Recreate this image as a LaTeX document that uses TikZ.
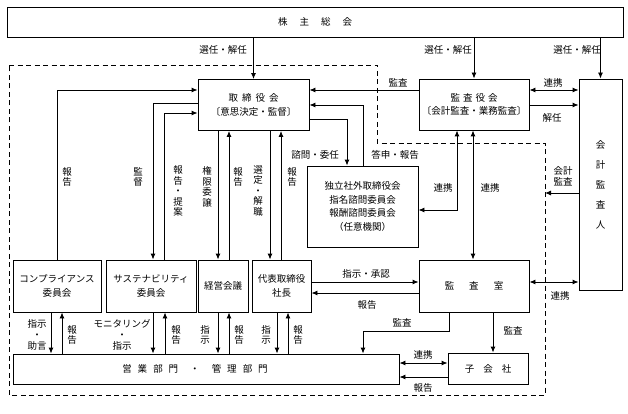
\documentclass[tikz,border=0pt]{standalone}
\usepackage{fontspec}
\setmainfont{Noto Sans CJK JP}
\usetikzlibrary{arrows.meta}

\begin{document}
\begin{tikzpicture}[x=1pt, y=-1pt,
    box/.style={draw, line width=0.9pt, align=center, inner sep=0pt, font=\fontsize{9.5}{13.5}\selectfont},
    lbl/.style={inner sep=0pt, font=\fontsize{9.5}{11}\selectfont},
    tate/.style={inner sep=0pt, align=center, font=\fontsize{9.5}{10.5}\selectfont},
    line/.style={line width=0.9pt},
    arr/.style={line, -{Latex[length=6pt,width=5pt]}},
    biarr/.style={line, {Latex[length=6pt,width=5pt]}-{Latex[length=6pt,width=5pt]}}]

    \useasboundingbox (0,0) rectangle (628,414);

    % ==========================================
    % TOP: shareholders, board, auditors
    % ==========================================

    % Boxes
    \node[box, minimum width=616, minimum height=30] (kabunushi) at (315,22) {株\hspace{12pt}主\hspace{12pt}総\hspace{12pt}会};
    \node[box, minimum width=111, minimum height=51] (torishimari) at (253.5,105) {取\hspace{4pt}締\hspace{4pt}役\hspace{4pt}会\\〔意思決定・監督〕};
    \node[box, minimum width=110, minimum height=51] (kansayaku) at (474,104.5) {監\hspace{3pt}査\hspace{3pt}役\hspace{3pt}会\\〔会計監査・業務監査〕};
    \node[box, minimum width=43, minimum height=211] (kaikei) at (600.5,184.5) {会\\[6.5pt]計\\[6.5pt]監\\[6.5pt]査\\[6.5pt]人};
    \node[box, minimum width=111, minimum height=81] (dokuritsu) at (362.5,206.5) {独立社外取締役会\\指名諮問委員会\\報酬諮問委員会\\（任意機関）};

    % Dashed frame of the company
    \draw[line, dash pattern=on 5pt off 3.5pt] (9,65) -- (377,65) -- (377,143) -- (545,143) -- (545,395) -- (9,395) -- cycle;
    \coordinate (kanmon) at (545,193);

    % Election / dismissal
    \draw[arr] (torishimari.north |- kabunushi.south) -- (torishimari.north);
    \draw[arr] (kansayaku.north |- kabunushi.south) -- (kansayaku.north);
    \draw[arr] (kaikei.north |- kabunushi.south) -- (kaikei.north);
    \node[lbl] (l-senin1) at (223,50) {選任・解任};
    \node[lbl] (l-senin2) at (448,50) {選任・解任};
    \node[lbl] (l-senin3) at (577,50) {選任・解任};

    % Audit board links
    \draw[arr] (kansayaku.west |- 0,90) -- (torishimari.east |- 0,90);
    \node[lbl] (l-kansa1) at (398,83) {監査};
    \draw[biarr] (kansayaku.east |- 0,90) -- (kaikei.west |- 0,90);
    \node[lbl] (l-renkei1) at (553,83) {連携};
    \draw[arr] (kansayaku.east |- 0,105) -- (kaikei.west |- 0,105);
    \node[lbl] (l-kainin) at (552,118) {解任};
    \draw[arr] (kaikei.west |- 0,193) -- (kanmon);
    \node[lbl, align=center] (l-kaikei) at (563,176) {会計\\監査};

    % Independent directors
    \draw[arr] (torishimari.east |- 0,119) -| (dokuritsu.north -| 347,0);
    \draw[arr] (dokuritsu.north -| 363,0) |- (torishimari.east |- 0,105);
    \node[lbl] (l-shimon) at (315,155) {諮問・委任};
    \node[lbl] (l-toushin) at (395,155) {答申・報告};
    \draw[biarr] (kansayaku.south -| 457,0) |- (dokuritsu.east |- 0,210);
    \node[lbl] (l-renkei2) at (443,188) {連携};

    % ==========================================
    % MIDDLE: committees and executives
    % ==========================================

    \node[box, minimum width=88, minimum height=52] (compliance) at (57,286) {コンプライアンス\\委員会};
    \node[box, minimum width=90, minimum height=52] (sustain) at (151,286) {サステナビリティ\\委員会};
    \node[box, minimum width=50, minimum height=52] (keiei) at (223,286) {経営会議};
    \node[box, minimum width=59, minimum height=52] (daihyo) at (281.5,286) {代表取締役\\社長};
    \node[box, minimum width=110, minimum height=52] (kansashitsu) at (474,286) {監\hspace{15pt}査\hspace{15pt}室};

    % Committees <-> board
    \draw[arr] (compliance.north) |- (torishimari.west |- 0,90);
    \node[tate] (l-hokoku1) at (67,177) {報\\告};
    \draw[arr] (torishimari.west |- 0,103) -| (sustain.north -| 153,0);
    \node[tate] (l-kantoku) at (138,177) {監\\督};
    \draw[arr] (sustain.north -| 164,0) |- (torishimari.west |- 0,113);
    \node[tate] (l-teian) at (178,191) {報\\告\\・\\提\\案};

    % Executives <-> board
    \draw[arr] (torishimari.south -| 218,0) -- (keiei.north -| 218,0);
    \node[tate] (l-inin) at (207,187) {権\\限\\委\\譲};
    \draw[arr] (keiei.north -| 229,0) -- (torishimari.south -| 229,0);
    \node[tate] (l-hokoku2) at (238,177) {報\\告};
    \draw[arr] (torishimari.south -| 270,0) -- (daihyo.north -| 270,0);
    \node[tate] (l-sentei) at (258,191) {選\\定\\・\\解\\職};
    \draw[arr] (daihyo.north -| 281,0) -- (torishimari.south -| 281,0);
    \node[tate] (l-hokoku3) at (292,177) {報\\告};

    % Internal audit office
    \draw[biarr] (kansayaku.south -| 473,0) -- (kansashitsu.north -| 473,0);
    \node[lbl] (l-renkei3) at (490,188) {連携};
    \draw[biarr] (kansashitsu.east |- 0,282) -- (kaikei.west |- 0,282);
    \node[lbl] (l-renkei4) at (560,296) {連携};
    \draw[arr] (daihyo.east |- 0,282) -- (kansashitsu.west |- 0,282);
    \node[lbl] (l-shoninn) at (366,274) {指示・承認};
    \draw[arr] (kansashitsu.west |- 0,293) -- (daihyo.east |- 0,293);
    \node[lbl] (l-hokoku4) at (367,305) {報告};

    % ==========================================
    % BOTTOM: business divisions and subsidiaries
    % ==========================================

    \node[box, minimum width=386, minimum height=30] (eigyo) at (206,369) {営\hspace{6pt}業\hspace{6pt}部\hspace{6pt}門\hspace{12pt}・\hspace{12pt}管\hspace{6pt}理\hspace{6pt}部\hspace{6pt}門\hspace*{22pt}};
    \node[box, minimum width=80, minimum height=31] (kogaisha) at (488,368.5) {子\hspace{9pt}会\hspace{9pt}社};

    % Instructions down, reports up
    \draw[arr] (compliance.south -| 51,0) -- (eigyo.north -| 51,0);
    \node[lbl, align=center] (l-jogen) at (37,335) {指示\\・\\助言};
    \draw[arr] (eigyo.north -| 62,0) -- (compliance.south -| 62,0);
    \node[tate] (l-hokoku5) at (72,335) {報\\告};
    \draw[arr] (sustain.south -| 153,0) -- (eigyo.north -| 153,0);
    \node[lbl, align=center] (l-monitor) at (122,335) {モニタリング\\・\\指示};
    \draw[arr] (eigyo.north -| 165,0) -- (sustain.south -| 165,0);
    \node[tate] (l-hokoku6) at (176,335) {報\\告};
    \draw[arr] (keiei.south -| 218,0) -- (eigyo.north -| 218,0);
    \node[tate] (l-shiji1) at (205,335) {指\\示};
    \draw[arr] (eigyo.north -| 229,0) -- (keiei.south -| 229,0);
    \node[tate] (l-hokoku7) at (239,335) {報\\告};
    \draw[arr] (daihyo.south -| 277,0) -- (eigyo.north -| 277,0);
    \node[tate] (l-shiji2) at (266,335) {指\\示};
    \draw[arr] (eigyo.north -| 288,0) -- (daihyo.south -| 288,0);
    \node[tate] (l-hokoku8) at (298,335) {報\\告};

    % Audits of divisions and subsidiaries
    \draw[arr] (kansashitsu.south -| 449,0) -- (449,331) -| (eigyo.north -| 363,0);
    \node[lbl] (l-kansa2) at (402,323) {監査};
    \draw[arr] (kansashitsu.south -| 493,0) -- (kogaisha.north -| 493,0);
    \node[lbl] (l-kansa3) at (513,331) {監査};
    \draw[biarr] (eigyo.east |- 0,363) -- (kogaisha.west |- 0,363);
    \node[lbl] (l-renkei5) at (423,355) {連携};
    \draw[arr] (kogaisha.west |- 0,377) -- (eigyo.east |- 0,377);
    \node[lbl] (l-hokoku9) at (423,388) {報告};

\end{tikzpicture}
\end{document}
